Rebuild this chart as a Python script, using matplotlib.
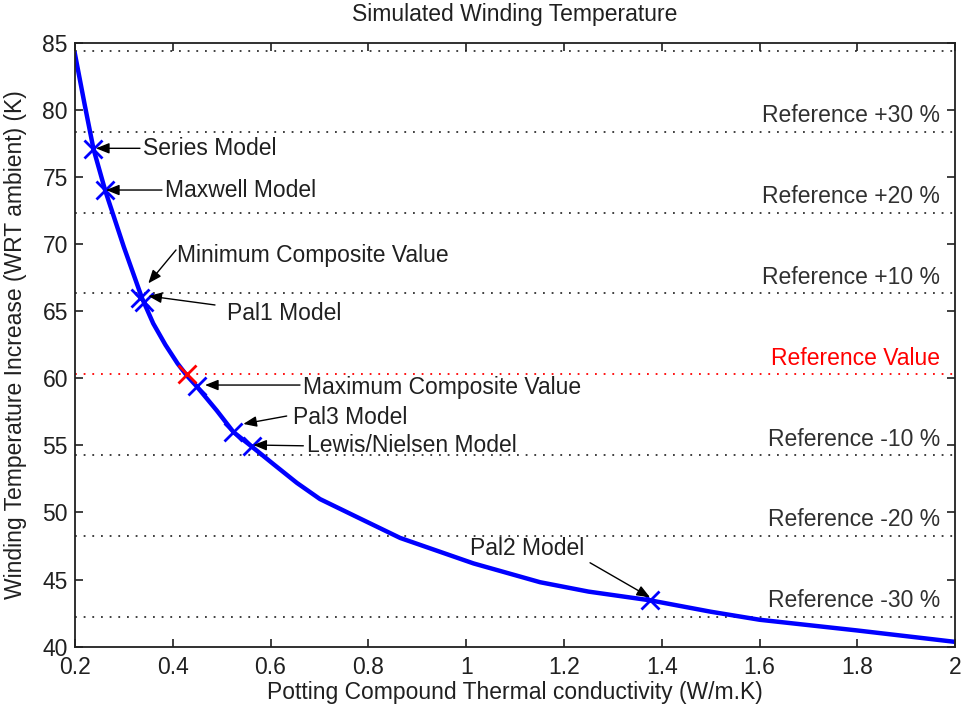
import numpy as np
import matplotlib
matplotlib.use('Agg')
import matplotlib.pyplot as plt

plt.rcParams['font.family'] = ['Liberation Sans', 'DejaVu Sans']

# %% data
k_curve = [0.2, 0.22, 0.238, 0.262, 0.30, 0.337, 0.36, 0.385, 0.41, 0.429, 0.449, 0.49,
           0.524, 0.562, 0.606, 0.654, 0.701, 0.78, 0.865, 1.015, 1.151, 1.25,
           1.376, 1.5, 1.6, 1.8, 2.0]
t_curve = [84.2, 80.4, 77.1, 74.0, 69.8, 66.0, 64.1, 62.5, 61.1, 60.2, 59.4, 57.6,
           56.0, 54.9, 53.6, 52.2, 51.0, 49.6, 48.1, 46.2, 44.8, 44.1,
           43.45, 42.6, 42.0, 41.2, 40.35]

model_names = ['Series Model', 'Maxwell Model', 'Minimum Composite Value', 'Pal1 Model',
               'Maximum Composite Value', 'Pal3 Model', 'Lewis/Nielsen Model', 'Pal2 Model']
model_k = [0.2376, 0.2616, 0.333, 0.341, 0.449, 0.524, 0.5615, 1.376]
model_t = [77.13, 74.02, 66.0, 65.7, 59.42, 56.01, 54.95, 43.47]

ref_value = 60.3
ref_k = 0.4287
ref_pct = [40, 30, 20, 10, 0, -10, -20, -30]

xticks = [0.2, 0.4, 0.6, 0.8, 1.0, 1.2, 1.4, 1.6, 1.8, 2.0]
yticks = [40, 45, 50, 55, 60, 65, 70, 75, 80, 85]

# annotation layout: text (left, middle), arrow tail, arrow tip
txt_pos = [(0.339, 77.15), (0.384, 74.04), (0.409, 69.19), (0.511, 64.85),
           (0.667, 59.33), (0.6465, 57.09), (0.674, 54.97), (1.008, 47.32)]
arr_tail = [(0.333, 77.15), (0.378, 74.04), (0.4067, 69.57), (0.4864, 65.47),
            (0.6602, 59.50), (0.633, 57.19), (0.667, 54.97), (1.2532, 46.25)]
arr_tip = [(0.2431, 77.15), (0.2636, 74.04), (0.3501, 67.08), (0.3501, 66.14),
           (0.466, 59.50), (0.5443, 56.60), (0.5648, 55.03), (1.3759, 43.67)]

fs = 16.5

fig = plt.figure(figsize=(9.64, 7.17), dpi=100)
ax = fig.add_axes([0.0777, 0.0982, 0.991 - 0.0777, 0.940 - 0.0982])

# reference lines
dots = (0, (1, 3.8))
for p in ref_pct:
    yv = ref_value * (1 + p / 100.0)
    col = 'red' if p == 0 else '#303030'
    ax.plot([0.2, 2.0], [yv, yv], color=col, lw=1.3, linestyle=dots, zorder=1)
    if p == 40:
        continue
    if p == 0:
        lab = 'Reference Value'
    else:
        lab = 'Reference %+d %%' % p
    ax.text(1.969, yv + 1.2, lab, ha='right', va='center', fontsize=fs, color=col)

# main curve
ax.plot(k_curve, t_curve, color='#0000ff', lw=3.2, zorder=2)
ax.plot(model_k, model_t, 'x', color='#0000ff', ms=13, mew=2, zorder=3)
ax.plot([ref_k], [ref_value], 'x', color='red', ms=13, mew=2, zorder=3)

# labels with arrows
for name, tp, ta, tt in zip(model_names, txt_pos, arr_tail, arr_tip):
    ax.text(tp[0], tp[1], name, ha='left', va='center', fontsize=fs, color='#202020')
    ax.annotate('', xy=tt, xytext=ta,
                arrowprops=dict(arrowstyle='-|>,head_length=0.5,head_width=0.2',
                                color='k', lw=1, shrinkA=0, shrinkB=0,
                                mutation_scale=16), zorder=4)

ax.set_xlim(0.2, 2.0)
ax.set_ylim(40, 85)
ax.set_xticks(xticks)
ax.set_yticks(yticks)
ax.set_xticklabels(['%g' % v for v in xticks])
ax.set_yticklabels(['%g' % v for v in yticks])
ax.tick_params(direction='in', length=6, width=1.2, top=True, right=True,
               labelsize=fs, colors='#202020')
ax.tick_params(axis='x', pad=7)
ax.tick_params(axis='y', pad=5)
for s in ax.spines.values():
    s.set_linewidth(1.3)
    s.set_color('#202020')

fig.text(0.534, 1 - 15 / 717.0, 'Simulated Winding Temperature', ha='center', va='center',
         fontsize=fs, color='#202020')
fig.text(0.534, 1 - 693 / 717.0, 'Potting Compound Thermal conductivity (W/m.K)',
         ha='center', va='center', fontsize=fs, color='#202020')
fig.text(0.0156, 0.519, 'Winding Temperature Increase (WRT ambient) (K)', rotation=90,
         ha='center', va='center', fontsize=fs, color='#202020')

fig.savefig('out.png', dpi=100)
